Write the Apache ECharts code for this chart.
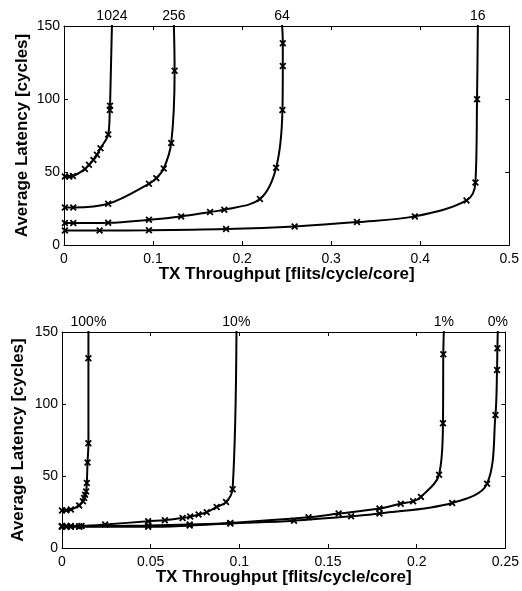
<!DOCTYPE html>
<html>
<head>
<meta charset="utf-8">
<script src="https://cdn.jsdelivr.net/npm/echarts@6/dist/echarts.min.js"></script>
<style>
html,body{margin:0;padding:0;background:#fff;}
#c{width:522px;height:591px;}
</style>
</head>
<body>
<div id="c"></div>
<script>
// ---------- Data (top panel: buffer sizes) ----------
const topNames = ['1024', '256', '64', '16'];
const s1024 = [[0.001,46.9],[0.006,46.9],[0.010,47.2],[0.0235,52],[0.028,54.9],[0.033,58.3],[0.037,61.8],[0.041,66.3],[0.0496,75.7],[0.0515,92.5],[0.0517,95.3],[0.054,155]];
const s256 = [[0.001,25.7],[0.0104,25.7],[0.0496,28.2],[0.0954,41.9],[0.1037,45.8],[0.112,52.4],[0.1204,69.8],[0.1242,119.4],[0.1232,155]];
const s64 = [[0.001,15.0],[0.0104,15.0],[0.0496,15.2],[0.0954,17.3],[0.1316,19.6],[0.164,22.6],[0.180,24.1],[0.220,31.5],[0.2382,52.9],[0.2453,92.5],[0.2457,122.6],[0.2457,138.2],[0.2444,155]];
const s16 = [[0.001,10.0],[0.040,10.0],[0.0954,10.1],[0.182,10.9],[0.259,12.7],[0.329,15.7],[0.394,19.6],[0.452,30.5],[0.462,42.8],[0.4638,99.9],[0.4648,155]];
const topSeries = [s1024, s256, s64, s16];
const topXTicks = {min: 0, max: 0.5, interval: 0.1};

// ---------- Data (bottom panel: percentages) ----------
const botNames = ['100%', '10%', '1%', '0%'];
const p100 = [[0,26.0],[0.0024,26.2],[0.005,26.7],[0.0097,29.6],[0.0118,32.4],[0.0125,34.8],[0.013,37.0],[0.0136,39.3],[0.014,45.1],[0.0144,59.4],[0.0149,72.8],[0.0149,131.7],[0.0149,155]];
const p10 = [[0,15.2],[0.0025,15.2],[0.005,15.2],[0.011,15.3],[0.0243,16.3],[0.0486,18.6],[0.058,19.3],[0.068,20.9],[0.0723,21.8],[0.077,23.2],[0.0816,24.9],[0.0872,28.5],[0.0925,31.9],[0.0962,40.8],[0.0984,155]];
const p1 = [[0,15.0],[0.0025,15.0],[0.005,15.0],[0.0097,15.1],[0.0486,15.6],[0.072,16.3],[0.0949,17.4],[0.139,21.3],[0.156,23.9],[0.179,27.4],[0.191,30.8],[0.198,32.4],[0.2024,35.5],[0.2126,50.9],[0.2148,86.7],[0.215,134.5],[0.2154,155]];
const p0 = [[0,14.7],[0.0025,14.7],[0.005,14.7],[0.0097,14.8],[0.0486,14.7],[0.072,15.6],[0.0949,17.0],[0.1308,19.0],[0.163,22.0],[0.179,23.9],[0.22,31.3],[0.2397,44.7],[0.2444,92.4],[0.2453,123.6],[0.2455,138.7],[0.2458,155]];
const botSeries = [p100, p10, p1, p0];
const botXTicks = {min: 0, max: 0.25, interval: 0.05};

const yTicks = {min: 0, max: 150, interval: 50};
const xTitle = 'TX Throughput [flits/cycle/core]';
const yTitle = 'Average Latency [cycles]';

// ---------- Chart ----------
const FONT = 'Liberation Sans, Arial, Helvetica, sans-serif';
const XMARK = 'path://M0,1.8L1.8,0L5,3.2L8.2,0L10,1.8L6.8,5L10,8.2L8.2,10L5,6.8L1.8,10L0,8.2L3.2,5Z';

function xAt(data, yLevel) {
  for (let i = 1; i < data.length; i++) {
    const a = data[i-1], b = data[i];
    if (a[1] <= yLevel && b[1] >= yLevel) {
      const t = (yLevel - a[1]) / (b[1] - a[1]);
      return a[0] + t * (b[0] - a[0]);
    }
  }
  return data[data.length-1][0];
}

function axisCommon(extra) {
  return Object.assign({
    type: 'value',
    nameMoveOverlap: false,
    axisLine: {show: true, onZero: false, lineStyle: {color: '#000', width: 1}},
    axisTick: {show: true, inside: true, length: 4, lineStyle: {color: '#000', width: 1}},
    splitLine: {show: false},
    axisLabel: {color: '#000', fontSize: 14, fontFamily: FONT},
    nameTextStyle: {color: '#000', fontSize: 17, fontWeight: 'bold', fontFamily: FONT}
  }, extra);
}

function makeAxes(gridIndex, xt, xGap, yGap) {
  const xs = [
    axisCommon(Object.assign({gridIndex, position: 'bottom', name: xTitle, nameLocation: 'middle', nameGap: xGap,
      axisLabel: {color: '#000', fontSize: 14, fontFamily: FONT, margin: 7}}, xt)),
    axisCommon(Object.assign({gridIndex, position: 'top', axisLabel: {show: false}}, xt))
  ];
  const ys = [
    axisCommon(Object.assign({gridIndex, position: 'left', name: yTitle, nameLocation: 'middle', nameGap: yGap, nameRotate: 90,
      axisLabel: {color: '#000', fontSize: 14, fontFamily: FONT, margin: 4}}, yTicks)),
    axisCommon(Object.assign({gridIndex, position: 'right', axisLabel: {show: false}}, yTicks))
  ];
  return {xs, ys};
}

const a0 = makeAxes(0, topXTicks, 21, 33);
const a1 = makeAxes(1, botXTicks, 21, 35);

function makeSeries(data, name, axisIdx) {
  return {
    type: 'line',
    name: name,
    xAxisIndex: axisIdx,
    yAxisIndex: axisIdx,
    data: data,
    smooth: 0.35,
    clip: true,
    symbol: XMARK,
    symbolSize: 7,
    showAllSymbol: true,
    lineStyle: {color: '#000', width: 2},
    itemStyle: {color: '#000'},
    markPoint: {
      symbol: 'rect',
      symbolSize: 0,
      silent: true,
      data: [{coord: [xAt(data, 150), 150], value: name}],
      label: {show: true, position: 'top', distance: 3, formatter: name, color: '#000', fontSize: 14, fontFamily: FONT}
    }
  };
}

const series = [];
topSeries.forEach((d, i) => series.push(makeSeries(d, topNames[i], 0)));
botSeries.forEach((d, i) => series.push(makeSeries(d, botNames[i], 2)));

const chart = echarts.init(document.getElementById('c'), null, {renderer: 'canvas'});
chart.setOption({
  animation: false,
  backgroundColor: '#fff',
  grid: [
    {left: 64, top: 26, width: 447, height: 219},
    {left: 62, top: 332, width: 446, height: 216}
  ],
  xAxis: [...a0.xs, ...a1.xs],
  yAxis: [...a0.ys, ...a1.ys],
  series: series
});
</script>
</body>
</html>
